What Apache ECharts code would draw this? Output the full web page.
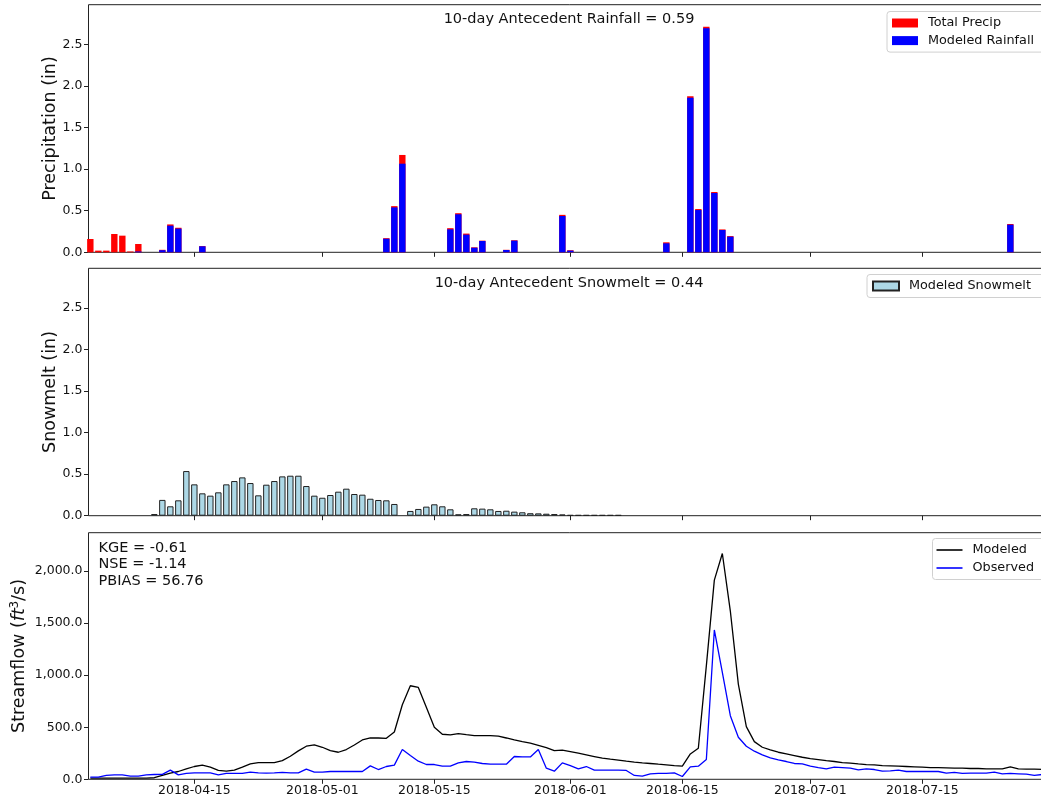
<!DOCTYPE html>
<html><head><meta charset="utf-8">
<script src="https://cdn.jsdelivr.net/npm/echarts@6/dist/echarts.min.js"></script>
<style>html,body{margin:0;padding:0;overflow:hidden;background:#fff}#c{width:1052px;height:799px}</style>
</head><body><div id="c"></div>
<script>
// ---------- data ----------
const startDate = '2018-04-02';
const xRange = ['2018-04-01T18:30', '2018-07-30T23:00'];
const tickDates = ['2018-04-15','2018-05-01','2018-05-15','2018-06-01','2018-06-15','2018-07-01','2018-07-15'];
const inchTicks = [0, 0.5, 1.0, 1.5, 2.0, 2.5];
const flowTicks = [0, 500, 1000, 1500, 2000];
const inchMax = 2.976;
const flowMax = 2370;

const totalPrecip = [
  0.16,0.02,0.02,0.22,0.20,0.01,0.10,0,0,0.03,
  0.335,0.295,0,0,0.075,0,0,0,0,0,
  0,0,0,0,0,0,0,0,0,0,
  0,0,0,0,0,0,0,0.17,0.555,1.17,
  0,0,0,0,0,0.29,0.47,0.225,0.06,0.14,
  0,0,0.03,0.145,0,0,0,0,0,0.45,
  0.025,0,0,0,0,0,0,0,0,0,
  0,0,0.12,0,0,1.875,0.52,2.71,0.725,0.275,
  0.195,0,0,0,0,0,0,0,0,0,
  0,0,0,0,0,0,0,0,0,0,
  0,0,0,0,0,0,0,0,0,0,
  0,0,0,0,0,0.34,0,0,0,0
];
const modeledRain = [
  0,0,0,0,0,0,0.01,0,0,0.025,
  0.32,0.285,0,0,0.072,0,0,0,0,0,
  0,0,0,0,0,0,0,0,0,0,
  0,0,0,0,0,0,0,0.163,0.54,1.065,
  0,0,0,0,0,0.276,0.457,0.212,0.055,0.136,
  0,0,0.028,0.14,0,0,0,0,0,0.436,
  0.02,0,0,0,0,0,0,0,0,0,
  0,0,0.108,0,0,1.858,0.508,2.692,0.713,0.268,
  0.188,0,0,0,0,0,0,0,0,0,
  0,0,0,0,0,0,0,0,0,0,
  0,0,0,0,0,0,0,0,0,0,
  0,0,0,0,0,0.332,0,0,0,0
];
const snowmelt = [
  null,null,null,null,null,null,null,null,0.02,0.19,
  0.113,0.185,0.537,0.377,0.269,0.241,0.281,0.377,0.417,0.461,
  0.393,0.245,0.373,0.417,0.473,0.481,0.481,0.357,0.241,0.216,
  0.249,0.289,0.325,0.261,0.253,0.204,0.189,0.185,0.141,null,
  0.057,0.081,0.109,0.137,0.113,0.077,0.017,0.02,0.089,0.085,
  0.077,0.057,0.06,0.049,0.041,0.03,0.028,0.024,0.02,0.015,
  0.008,0.008,0.008,0.008,0.008,0.008,0.008,null,null,null,
  null,null,null,null,null,null,null,null,null,null,
  null,null,null,null,null,null,null,null,null,null,
  null,null,null,null,null,null,null,null,null,null,
  null,null,null,null,null,null,null,null,null,null,
  null,null,null,null,null,null,null,null,null,null
];
const modeledFlow = [
  12,12,12,12,12,12,12,12,15,37,
  60,75,100,123,136,117,85,78,88,117,
  148,161,161,161,180,222,273,318,330,308,
  276,260,286,330,378,397,397,394,455,717,
  899,883,692,500,433,426,439,429,420,420,
  420,414,397,378,362,347,327,305,276,280,
  267,251,235,219,203,193,184,174,165,158,
  152,145,139,132,126,244,299,1090,1914,2170,
  1617,915,506,362,308,283,260,244,228,212,
  199,190,180,171,161,155,148,142,139,132,
  129,126,123,120,117,113,113,110,107,107,
  104,104,101,101,100,120,100,97,97,95
];
const observedFlow = [
  21,21,37,43,43,30,30,43,46,48,
  88,43,56,62,62,62,43,56,56,56,
  69,62,59,62,66,62,62,98,69,69,
  75,75,75,75,75,129,94,123,136,286,
  228,174,142,142,126,126,158,171,165,152,
  145,145,145,219,215,215,286,107,78,158,
  132,101,123,88,88,88,88,85,37,30,
  53,56,56,62,27,120,126,190,1435,1027,
  611,404,318,270,235,206,187,171,152,148,
  126,113,101,117,113,107,91,101,94,78,
  81,88,75,75,75,75,75,59,66,56,
  59,59,59,69,53,56,53,49,37,46
];
const statLines = ['KGE = -0.61', 'NSE = -1.14', 'PBIAS = 56.76'];
const rainNote = '10-day Antecedent Rainfall = 0.59';
const snowNote = '10-day Antecedent Snowmelt = 0.44';

// ---------- build ----------
const DAY = 86400000;
function toTs(s) { return Date.parse(s.length === 10 ? s + 'T00:00:00Z' : s + ':00Z'); }
const t0 = toTs(startDate);
const dates = totalPrecip.map((_, i) => t0 + i * DAY);
const pair = arr => dates.map((t, i) => [t, arr[i]]);
const tickTs = tickDates.map(toTs);
const xMin = toTs(xRange[0]), xMax = toTs(xRange[1]);
const pad = n => (n < 10 ? '0' : '') + n;
const fmtDate = v => { const d = new Date(v); return d.getUTCFullYear() + '-' + pad(d.getUTCMonth() + 1) + '-' + pad(d.getUTCDate()); };
const fmtThousands = v => { const s = Number(v).toFixed(1); const [a, b] = s.split('.'); return a.replace(/\B(?=(\d{3})+$)/g, ',') + '.' + b; };

const FONT = 'DejaVu Sans';
const TXT = '#111';
const gridBox = { show: true, borderColor: '#222', borderWidth: 1, backgroundColor: 'transparent', left: 88.5, right: 2 };

const chart = echarts.init(document.getElementById('c'), null, { renderer: 'canvas' });
const xAxes = [0, 1, 2].map(g => ({
  type: 'value', gridIndex: g, min: xMin, max: xMax, scale: true,
  axisLine: { show: false }, splitLine: { show: false },
  axisTick: { show: true, customValues: tickTs, length: 4.5, lineStyle: { color: '#222', width: 1 } },
  axisLabel: { show: g === 2, customValues: tickTs, formatter: fmtDate, fontSize: 12.5, fontFamily: FONT, color: TXT, margin: 5 }
}));
function yInch(g, name) {
  return {
    type: 'value', gridIndex: g, min: 0, max: inchMax,
    axisLine: { show: false }, splitLine: { show: false },
    axisTick: { show: true, customValues: inchTicks, length: 4.5, lineStyle: { color: '#222' } },
    axisLabel: { customValues: inchTicks, formatter: v => Number(v).toFixed(1), fontSize: 12.5, fontFamily: FONT, color: TXT, margin: 6 },
    name: name, nameLocation: 'middle', nameRotate: 90, nameGap: 29.5, nameMoveOverlap: false,
    nameTextStyle: { fontSize: 17.5, fontFamily: FONT, color: TXT }
  };
}
const yAxes = [
  yInch(0, 'Precipitation (in)'),
  yInch(1, 'Snowmelt (in)'),
  {
    type: 'value', gridIndex: 2, min: 0, max: flowMax,
    axisLine: { show: false }, splitLine: { show: false },
    axisTick: { show: true, customValues: flowTicks, length: 4.5, lineStyle: { color: '#222' } },
    axisLabel: { customValues: flowTicks, formatter: fmtThousands, fontSize: 12.5, fontFamily: FONT, color: TXT, margin: 6 },
    name: '{n|Streamflow (}{i|ft}{s|3}{n|/s)}', nameLocation: 'middle', nameRotate: 90, nameGap: 59.5, nameMoveOverlap: false,
    nameTextStyle: { fontSize: 17.5, fontFamily: FONT, color: TXT,
      rich: { n: { fontSize: 17.5, fontFamily: FONT, color: TXT }, i: { fontSize: 17.5, fontStyle: 'italic', fontFamily: FONT, color: TXT }, s: { fontSize: 11.5, fontFamily: FONT, color: TXT, verticalAlign: 'top', padding: [0, 0, 8, 0] } } }
  }
];
const legendBase = {
  orient: 'vertical', backgroundColor: 'rgba(255,255,255,0.8)', borderColor: '#d0d0d0', borderWidth: 1, borderRadius: 3,
  itemWidth: 26, itemHeight: 9, itemGap: 4.6,
  textStyle: { fontSize: 12.8, fontFamily: FONT, color: TXT, padding: [0, 0, 0, 5] }
};
const option = {
  animation: false,
  backgroundColor: '#fff',
  grid: [
    Object.assign({ top: 4.7, height: 247.6 }, gridBox),
    Object.assign({ top: 268.3, height: 247.4 }, gridBox),
    Object.assign({ top: 532.7, height: 246.6 }, gridBox)
  ],
  xAxis: xAxes,
  yAxis: yAxes,
  legend: [
    Object.assign({}, legendBase, { left: 887, top: 11.5, padding: [5, 40, 5, 5], data: [{ name: 'Total Precip', icon: 'rect' }, { name: 'Modeled Rainfall', icon: 'rect' }] }),
    Object.assign({}, legendBase, { left: 867, top: 274.5, padding: [5, 40, 5, 5], data: [{ name: 'Modeled Snowmelt', icon: 'rect' }] }),
    Object.assign({}, legendBase, { left: 932.5, top: 538.5, padding: [5, 40, 5, 4], itemHeight: 1.6, itemGap: 5, data: [{ name: 'Modeled', icon: 'rect' }, { name: 'Observed', icon: 'rect' }] })
  ],
  series: [
    { name: 'Total Precip', type: 'bar', xAxisIndex: 0, yAxisIndex: 0, data: pair(totalPrecip), barWidth: 6.4, barGap: '-100%', itemStyle: { color: '#ff0000' } },
    { name: 'Modeled Rainfall', type: 'bar', xAxisIndex: 0, yAxisIndex: 0, data: pair(modeledRain), barWidth: 6.4, barGap: '-100%', itemStyle: { color: '#0000ff' } },
    { name: 'Modeled Snowmelt', type: 'bar', xAxisIndex: 1, yAxisIndex: 1, data: pair(snowmelt), barWidth: 6.4, itemStyle: { color: '#add8e6', borderColor: '#222', borderWidth: 1 } },
    { name: 'Modeled', type: 'line', xAxisIndex: 2, yAxisIndex: 2, data: pair(modeledFlow), symbol: 'none', color: '#000', lineStyle: { color: '#000', width: 1.3 } },
    { name: 'Observed', type: 'line', xAxisIndex: 2, yAxisIndex: 2, data: pair(observedFlow), symbol: 'none', color: '#0000ff', lineStyle: { color: '#0000ff', width: 1.3 } }
  ],
  graphic: [
    { type: 'text', x: 569, y: 19, style: { text: rainNote, fontSize: 14.5, fontFamily: FONT, fill: TXT, textAlign: 'center', textVerticalAlign: 'middle' } },
    { type: 'text', x: 569, y: 283, style: { text: snowNote, fontSize: 14.5, fontFamily: FONT, fill: TXT, textAlign: 'center', textVerticalAlign: 'middle' } },
    { type: 'text', x: 98.5, y: 539.5, style: { text: statLines.join('\n'), fontSize: 14.5, lineHeight: 16.6, fontFamily: FONT, fill: TXT, textAlign: 'left', textVerticalAlign: 'top' } }
  ]
};
chart.setOption(option);
</script>
</body></html>
